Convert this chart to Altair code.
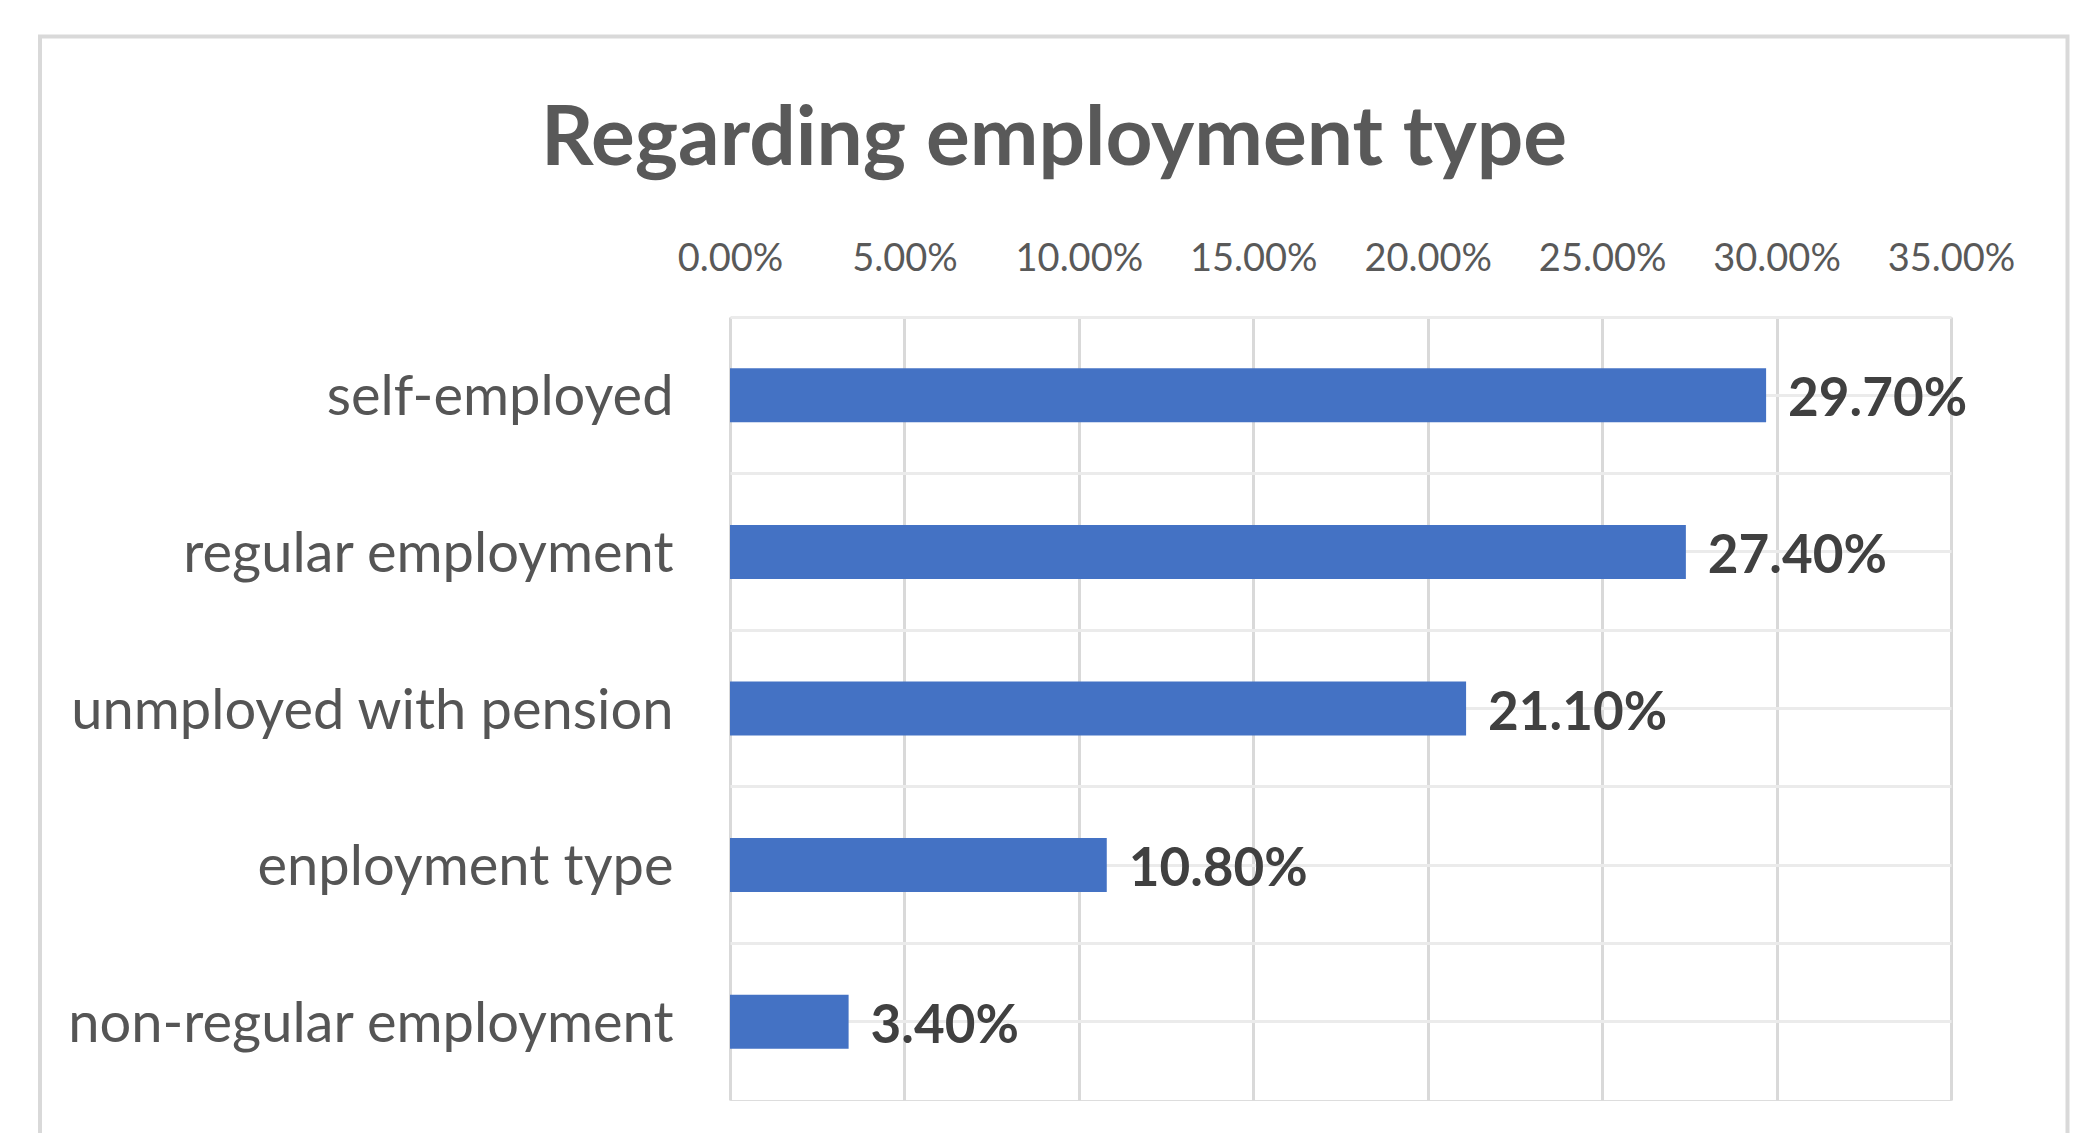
import altair as alt
import pandas as pd

categories = ["self-employed", "regular employment", "unmployed with pension",
              "enployment type", "non-regular employment"]
values = [0.297, 0.274, 0.211, 0.108, 0.034]
tick_values = [0.0, 0.05, 0.10, 0.15, 0.20, 0.25, 0.30, 0.35]
title_text = "Regarding employment type"

df = pd.DataFrame({"category": categories, "value": values})

FONT = "Lato"
W, H = 1221, 783

y_scale = alt.Scale(domain=categories, paddingInner=0, paddingOuter=0)
x_scale = alt.Scale(domain=[0, 0.35], nice=False, zero=True)

base = alt.Chart(df)

frame = alt.Chart(pd.DataFrame({"k": [0]})).mark_rect(
    fill=None, stroke="#d9d9d9", strokeWidth=4
).encode(
    x=alt.value(-690), x2=alt.value(1337.5),
    y=alt.value(-280.5), y2=alt.value(900),
)

bars = base.mark_bar(color="#4472C4", size=54).encode(
    x=alt.X("value:Q", scale=x_scale,
            axis=alt.Axis(orient="top", format=".2%", values=tick_values,
                          title=None, domain=False, ticks=False, tickSize=0,
                          labelFont=FONT, labelFontSize=38, labelColor="#595959",
                          labelBaseline="alphabetic", labelPadding=47,
                          labelOverlap=False, labelFlush=False,
                          grid=True, gridColor="#d9d9d9", gridWidth=3)),
    y=alt.Y("category:N", sort=categories, scale=y_scale,
            axis=alt.Axis(orient="left", title=None, domain=False, ticks=False,
                          tickSize=0, labelFont=FONT, labelFontSize=56,
                          labelColor="#555555", labelPadding=57,
                          labelBaseline="middle", labelLimit=1000,
                          labelOffset=3,
                          grid=True, gridColor="#ebebeb", gridWidth=3,
                          bandPosition=0)),
)

labels = base.mark_text(
    align="left", baseline="middle", dx=22, dy=5, font=FONT, fontSize=53,
    fontWeight="bold", color="#404040"
).encode(
    x=alt.X("value:Q", scale=x_scale),
    y=alt.Y("category:N", sort=categories, scale=y_scale,
            axis=alt.Axis(orient="right", title=None, labels=False, domain=False,
                          ticks=False, tickSize=0, grid=True, gridColor="#ebebeb",
                          gridWidth=3, bandPosition=0.5)),
    text=alt.Text("value:Q", format=".2%"),
)

chart = alt.layer(frame, bars, labels).resolve_axis(y="independent").properties(
    width=W, height=H,
    autosize=alt.AutoSizeParams(type="none"),
    padding={"left": 730, "top": 317, "right": 148, "bottom": 33},
    title=alt.TitleParams(title_text, anchor="middle", frame="group", dx=-286.5,
                          baseline="alphabetic", dy=212,
                          font=FONT, fontSize=82, fontWeight="bold",
                          color="#595959", offset=0),
).configure_view(stroke="#ebebeb", strokeWidth=3).configure(background="white")

chart.save("out.html", embed_options={"renderer": "svg", "actions": False})
